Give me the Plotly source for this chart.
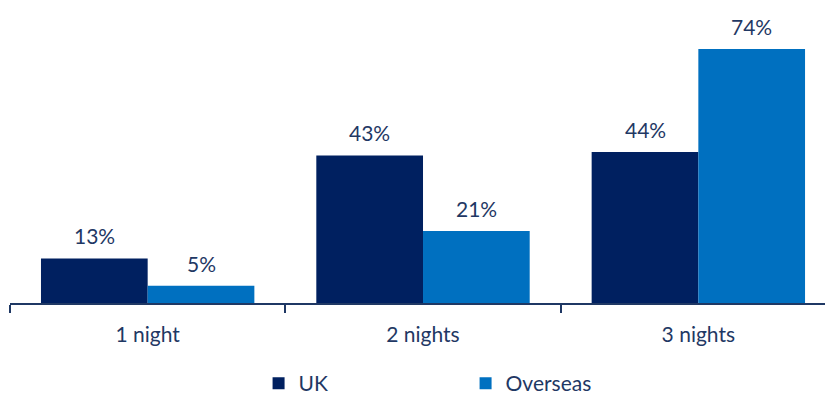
import plotly.graph_objects as go

categories = ["1 night", "2 nights", "3 nights"]
uk_values = [13, 43, 44]
overseas_values = [5, 21, 74]
series_names = ["UK", "Overseas"]

UK_COLOR = "#002060"
OVERSEAS_COLOR = "#0070C0"
TEXT_COLOR = "#1F3864"
FONT = "Lato, 'Open Sans', sans-serif"
BARGAP = 0.225

fig = go.Figure()
fig.add_trace(go.Bar(name=series_names[0], x=categories, y=uk_values,
                     marker=dict(color=UK_COLOR, line=dict(width=0))))
fig.add_trace(go.Bar(name=series_names[1], x=categories, y=overseas_values,
                     marker=dict(color=OVERSEAS_COLOR, line=dict(width=0))))

# value labels above each bar, centred on its half of the category slot
bar_w = (1 - BARGAP) / 2
for vals, off in ((uk_values, -bar_w / 2), (overseas_values, bar_w / 2)):
    for i, v in enumerate(vals):
        fig.add_annotation(x=i + off, y=v, xref="x", yref="y",
                           text=f"{v}%", showarrow=False,
                           yanchor="bottom", yshift=8,
                           font=dict(family=FONT, size=21, color=TEXT_COLOR))

fig.update_layout(
    width=825, height=396,
    margin=dict(l=10, r=0, t=10, b=93, autoexpand=False),
    paper_bgcolor="white", plot_bgcolor="white",
    barmode="group", bargap=BARGAP, bargroupgap=0,
    font=dict(family=FONT, size=21, color=TEXT_COLOR),
    showlegend=True,
    legend=dict(orientation="h", x=0.305, xanchor="left", y=-0.275, yanchor="middle",
                entrywidth=162, itemwidth=30,
                font=dict(family=FONT, size=21, color=TEXT_COLOR)),
)
fig.update_xaxes(type="category", range=[-0.5, 2.46],
                 showline=True, linecolor="#1F3864", linewidth=1.5,
                 tickson="boundaries", ticks="outside", ticklen=8,
                 tickcolor="#1F3864", tickwidth=1.5,
                 ticklabelstandoff=12, showgrid=False, zeroline=False)
fig.update_yaxes(range=[0, 85.4], visible=False, showgrid=False, zeroline=False)

fig.write_html("out.html")
